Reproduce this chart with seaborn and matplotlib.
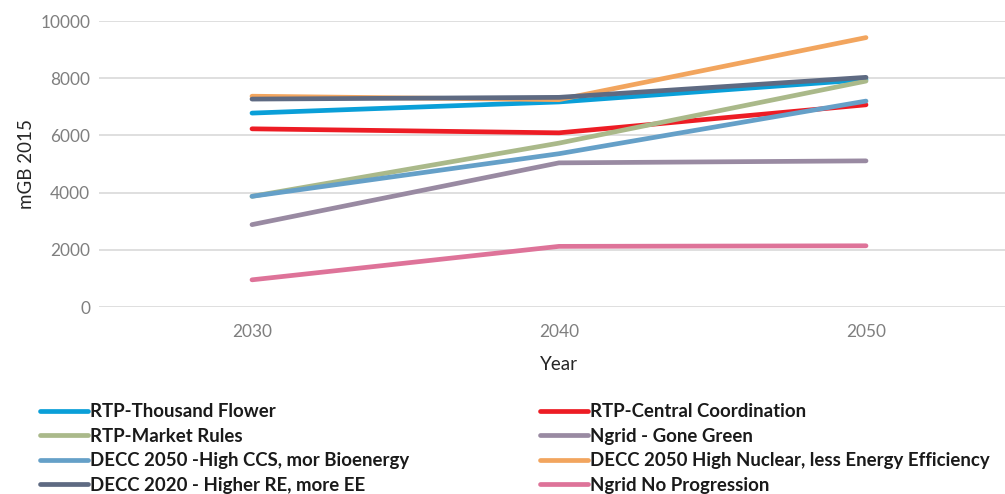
import pandas as pd
import numpy as np
import matplotlib
matplotlib.use("Agg")
import matplotlib.pyplot as plt
import seaborn as sns

years = ["2030", "2040", "2050"]

series_names = [
    "RTP-Thousand Flower",
    "RTP-Central Coordination",
    "RTP-Market Rules",
    "Ngrid - Gone Green",
    "DECC 2050 -High CCS, mor Bioenergy",
    "DECC 2050 High Nuclear, less Energy Efficiency",
    "DECC 2020 - Higher RE, more EE",
    "Ngrid No Progression",
]

thousand_flower = [6780, 7170, 7950]
central_coord = [6230, 6090, 7070]
market_rules = [3870, 5730, 7900]
gone_green = [2880, 5040, 5110]
decc_ccs = [3870, 5360, 7200]
decc_nuclear = [7370, 7250, 9420]
decc_2020 = [7270, 7330, 8030]
no_progression = [950, 2120, 2140]

colors = ["#0A9FD8", "#ED1C24", "#AAB98A", "#998AA2",
          "#65A0C8", "#F2A55E", "#5E6A82", "#DE7399"]

all_values = [thousand_flower, central_coord, market_rules, gone_green,
              decc_ccs, decc_nuclear, decc_2020, no_progression]

rows = []
for name, vals in zip(series_names, all_values):
    for y, v in zip(years, vals):
        rows.append({"Year": y, "value": v, "series": name})
df = pd.DataFrame(rows)

sns.set_style("white")
plt.rcParams["font.family"] = ["Lato", "DejaVu Sans"]

fig = plt.figure(figsize=(10.05, 4.94), dpi=100)
ax = fig.add_axes([98.5 / 1005, 1 - 307 / 494, 921 / 1005, 286 / 494])

sns.lineplot(data=df, x="Year", y="value", hue="series", hue_order=series_names,
             palette=colors, linewidth=3.4, ax=ax, legend=False, sort=False)
for ln in ax.lines:
    ln.set_solid_capstyle("round")
    ln.set_solid_joinstyle("round")

ax.set_xlim(-0.5, 2.5)
ax.set_ylim(0, 10000)
ax.set_yticks(np.arange(0, 10001, 2000))
ax.yaxis.grid(True, color="#D9D9D9", linewidth=1.2)
ax.set_axisbelow(True)
for s in ax.spines.values():
    s.set_visible(False)
ax.tick_params(axis="both", length=0, labelsize=12.4, colors="#7F7F7F")
ax.tick_params(axis="x", pad=12)
ax.tick_params(axis="y", pad=6)
ax.set_xlabel("Year", fontsize=13.5, color="#262626", labelpad=12)
ax.set_ylabel("mGB 2015", fontsize=13.5, color="#262626", labelpad=4)

# legend: row-wise order, matplotlib fills columns first
handles = ax.lines[:8]
order = [0, 2, 4, 6, 1, 3, 5, 7]
leg = fig.legend([handles[i] for i in order], [series_names[i] for i in order],
                 ncol=2, loc="upper left", bbox_to_anchor=(0.0235, 0.2175),
                 frameon=False, handlelength=2.58, handletextpad=0.1,
                 columnspacing=7.0, labelspacing=0.40,
                 prop={"weight": "bold", "size": 13.4})
for t in leg.get_texts():
    t.set_color("#1a1a1a")

fig.savefig("out.png", dpi=100)
